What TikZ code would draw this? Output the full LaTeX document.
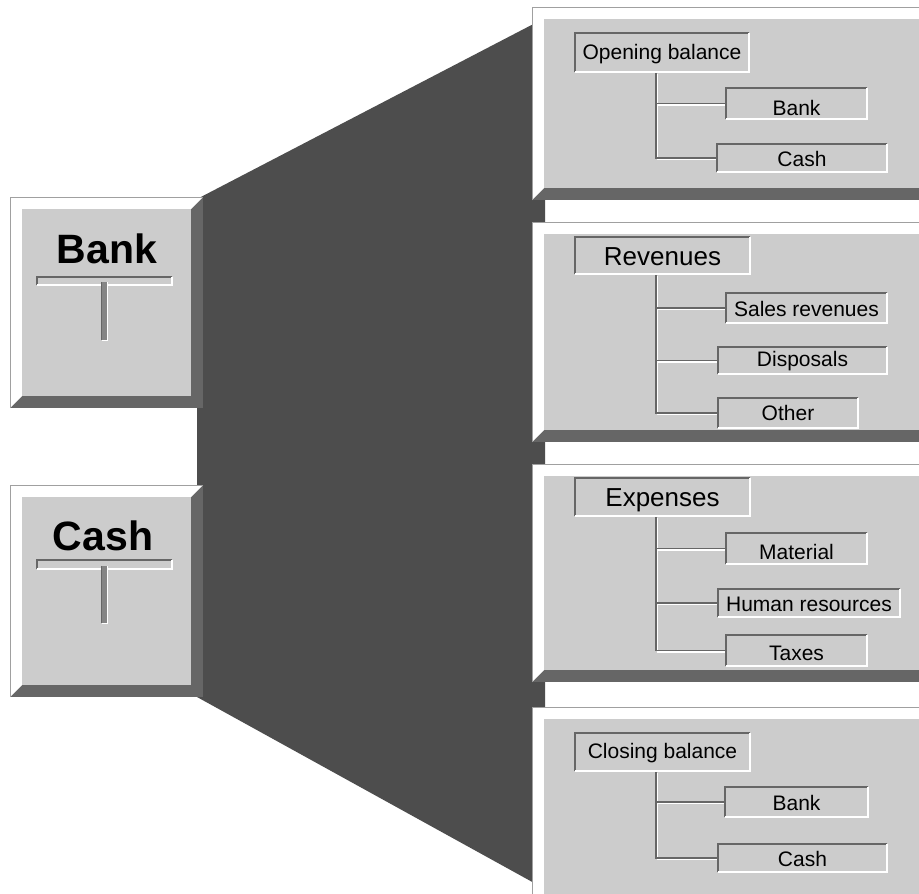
\documentclass[tikz,border=0pt]{standalone}
\usepackage{fontspec}
\setmainfont{Liberation Sans}
\usetikzlibrary{calc}

\definecolor{slab}{HTML}{4D4D4D}
\definecolor{bevel}{HTML}{666666}
\definecolor{face}{HTML}{CCCCCC}
\definecolor{rim}{HTML}{A0A0A0}
\definecolor{stemgrey}{HTML}{858585}

% raised panel: white bevel top/left, dark bevel bottom/right, light face
\newcommand{\raisedpanel}[4]{%
  \fill[bevel] (#1,#2) rectangle (#3,#4);
  \fill[white] (#1,#4) -- (#1,#2) -- (#3,#2) -- (#3-12,#2+12) -- (#1+12,#2+12) -- (#1+12,#4-12) -- cycle;
  \fill[face] (#1+12,#2+12) rectangle (#3-12,#4-12);
  \draw[rim, line width=0.7pt] (#1,#4) -- (#1,#2) -- (#3,#2);
}
% sunken frame around a node: dark top/left, white bottom/right
\newcommand{\insetframe}[1]{%
  \draw[bevel, line width=1.6pt] (#1.south west) |- (#1.north east);
  \draw[white, line width=1.6pt] (#1.south west) -| (#1.north east);
}
% engraved tree branch from a parent box to a child box along trunk x
\newcommand{\ridge}[3]{\draw[ridgeline] (#1.south -| #3) |- (#2.west);}
\newcommand{\groove}[3]{\draw[grooveline] (#1.south -| #3) |- (#2.west);}

\tikzset{
  leaf/.style={fill=face, inner sep=0pt, text depth=0pt,
    font=\fontsize{21}{25}\selectfont},
  head/.style={leaf, font=\fontsize{26}{30}\selectfont},
  sz/.style 2 args={minimum width=#1pt, minimum height=#2pt},
  bl/.style={text height=#1pt},
  title/.style={font=\fontsize{41}{45}\selectfont\bfseries, inner sep=0pt},
  plate/.style={fill=face, inner sep=0pt},
  stembar/.style={fill=stemgrey, inner sep=0pt},
  grooveline/.style={draw=bevel, line width=1.6pt},
  ridgeline/.style={draw=white, line width=1.6pt,
    transform canvas={xshift=1.6pt, yshift=-1.6pt}},
}

\begin{document}
\begin{tikzpicture}[x=1pt, y=-1pt]
\useasboundingbox (0,0) rectangle (919,894);
\clip (0,0) rectangle (919,894);
\fill[white] (0,0) rectangle (919,894);

% the dark fan joining the accounts to the statement sections
\fill[slab] (197,199) -- (545,18) -- (545,889) -- (197,697) -- cycle;

% account panels
\raisedpanel{10}{197}{203}{408}
\raisedpanel{10}{485}{203}{697}

% statement panels
\raisedpanel{532}{7}{940}{200}
\raisedpanel{532}{222}{940}{442}
\raisedpanel{532}{464}{940}{682}
\raisedpanel{532}{707}{940}{912}

% account titles with T-account symbols
\node[title, anchor=base] (bankT) at (107,263) {Bank};
\node[plate, sz={135}{8}] (bankbar) at (104.5,281) {};
\insetframe{bankbar}
\node[stembar, sz={5}{58}] (bankstem) at (104.5,311) {};
\draw[bevel, line width=1.2pt] (bankstem.north west) -- (bankstem.south west);
\draw[white, line width=1.4pt] (bankstem.north east) -- (bankstem.south east) -- (bankstem.south west);

\node[title, anchor=base] (cashT) at (103,550) {Cash};
\node[plate, sz={135}{9}] (cashbar) at (104.5,564.5) {};
\insetframe{cashbar}
\node[stembar, sz={5}{57}] (cashstem) at (104.5,594.5) {};
\draw[bevel, line width=1.2pt] (cashstem.north west) -- (cashstem.south west);
\draw[white, line width=1.4pt] (cashstem.north east) -- (cashstem.south east) -- (cashstem.south west);

% statement boxes
\node[leaf, sz={174}{39}, bl=13.6] (op)  at (662,52.5)   {Opening balance};
\node[leaf, sz={141}{31}, bl=23]   (ob)  at (796.5,103.5) {Bank};
\node[leaf, sz={170}{28}, bl=17.4] (oc)  at (802,158)    {Cash};

\node[head, sz={175}{37}, bl=20.4] (rev) at (662.5,255.5) {Revenues};
\node[leaf, sz={161}{30}, bl=17.4] (sal) at (806.5,308)  {Sales revenues};
\node[leaf, sz={169}{27}, bl=12.4] (dis) at (802.5,360.5) {Disposals};
\node[leaf, sz={140}{30}, bl=14]   (oth) at (788,413)    {Other};

\node[head, sz={175}{38}, bl=18]   (exp) at (662.5,497)  {Expenses};
\node[leaf, sz={141}{31}, bl=21.6] (mat) at (796.5,548.5) {Material};
\node[leaf, sz={182}{28}, bl=17.4] (hum) at (809,603)    {Human resources};
\node[leaf, sz={141}{31}, bl=19]   (tax) at (796.5,650.5) {Taxes};

\node[leaf, sz={175}{38}, bl=12.6] (cl)  at (662.5,752)  {Closing balance};
\node[leaf, sz={143}{30}, bl=16]   (cb)  at (796.5,802)  {Bank};
\node[leaf, sz={169}{28}, bl=17.4] (cc)  at (802.5,858)  {Cash};

% tree branches: white highlights first, grey grooves on top
\coordinate (tk) at (656,0);
\ridge{op}{ob}{tk}  \ridge{op}{oc}{tk}
\ridge{rev}{sal}{tk} \ridge{rev}{dis}{tk} \ridge{rev}{oth}{tk}
\ridge{exp}{mat}{tk} \ridge{exp}{hum}{tk} \ridge{exp}{tax}{tk}
\ridge{cl}{cb}{tk}  \ridge{cl}{cc}{tk}
\groove{op}{ob}{tk}  \groove{op}{oc}{tk}
\groove{rev}{sal}{tk} \groove{rev}{dis}{tk} \groove{rev}{oth}{tk}
\groove{exp}{mat}{tk} \groove{exp}{hum}{tk} \groove{exp}{tax}{tk}
\groove{cl}{cb}{tk}  \groove{cl}{cc}{tk}

% sunken frames of the boxes
\foreach \n in {op,ob,oc,rev,sal,dis,oth,exp,mat,hum,tax,cl,cb,cc}{\insetframe{\n}}
\end{tikzpicture}
\end{document}
